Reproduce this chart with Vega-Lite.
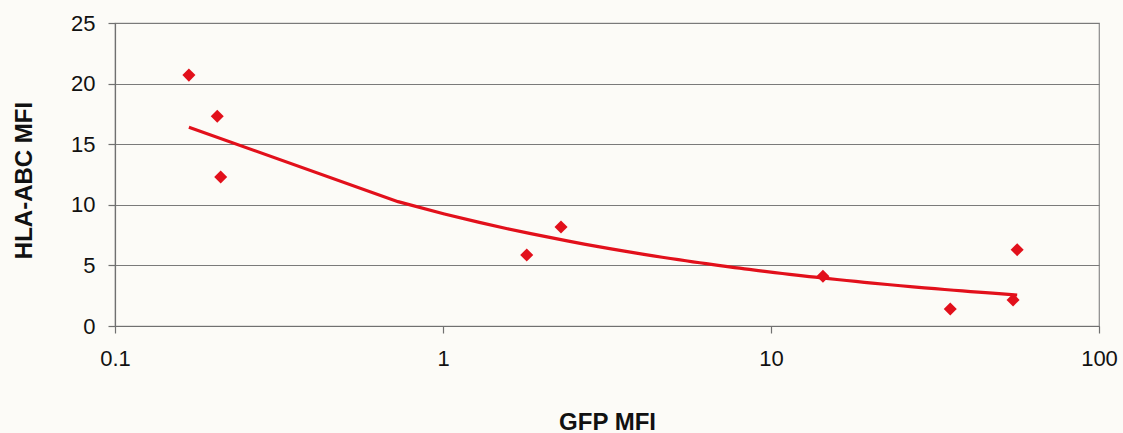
{
  "$schema": "https://vega.github.io/schema/vega-lite/v6.json",
  "width": 984,
  "height": 303,
  "autosize": {"type": "none"},
  "padding": {"left": 115, "top": 23, "right": 24, "bottom": 107},
  "background": "#fcfbf7",
  "config": {
    "font": "Liberation Sans",
    "view": {"stroke": "#8a8a8a", "strokeWidth": 1.2},
    "axis": {
      "labelFont": "Liberation Sans",
      "labelFontSize": 22,
      "labelColor": "#111111",
      "titleFont": "Liberation Sans",
      "titleFontSize": 24,
      "titleFontWeight": "bold",
      "titleColor": "#111111",
      "domainColor": "#707070",
      "domainWidth": 1.2,
      "tickColor": "#707070",
      "tickWidth": 1.2,
      "tickSize": 7,
      "gridColor": "#7a7a7a",
      "gridWidth": 1.1
    }
  },
  "data": {
    "values": [
      {"gfp": 0.168, "hla": 20.7},
      {"gfp": 0.205, "hla": 17.3},
      {"gfp": 0.21, "hla": 12.3},
      {"gfp": 1.8, "hla": 5.86},
      {"gfp": 2.29, "hla": 8.17},
      {"gfp": 14.4, "hla": 4.1},
      {"gfp": 35.2, "hla": 1.4},
      {"gfp": 54.7, "hla": 2.15},
      {"gfp": 56.3, "hla": 6.3}
    ]
  },
  "layer": [
    {
      "transform": [
        {"regression": "hla", "on": "gfp", "method": "pow"}
      ],
      "mark": {"type": "line", "color": "#e2101b", "strokeWidth": 3.2, "clip": true},
      "encoding": {
        "x": {"field": "gfp", "type": "quantitative"},
        "y": {"field": "hla", "type": "quantitative"}
      }
    },
    {
      "mark": {"type": "point", "shape": "diamond", "filled": true, "color": "#e2101b", "opacity": 1, "size": 170},
      "encoding": {
        "x": {
          "field": "gfp",
          "type": "quantitative",
          "scale": {"type": "log", "domain": [0.1, 100], "nice": false},
          "axis": {
            "title": "GFP MFI",
            "values": [0.1, 1, 10, 100],
            "format": "~g",
            "grid": false,
            "labelBaseline": "alphabetic",
            "labelPadding": 32,
            "labelFlush": false,
            "titleX": 492,
            "titleY": 103,
            "titleAlign": "center",
            "titleBaseline": "alphabetic"
          }
        },
        "y": {
          "field": "hla",
          "type": "quantitative",
          "scale": {"domain": [0, 25], "nice": false, "zero": true},
          "axis": {
            "title": "HLA-ABC MFI",
            "values": [0, 5, 10, 15, 20, 25],
            "grid": true,
            "labelPadding": 13,
            "titleX": -84,
            "titleY": 157,
            "titleAlign": "center",
            "titleBaseline": "alphabetic",
            "titleAngle": -90
          }
        }
      }
    }
  ]
}
